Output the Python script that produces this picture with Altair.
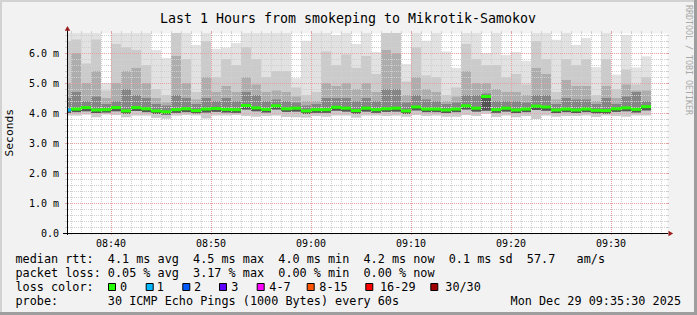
import altair as alt
import pandas as pd

# ---------------- data ----------------
# column start / end in minutes after 08:00 (first column is partial)
col_start = [35.6] + list(range(36, 94))
col_end = [36] + list(range(37, 95))

# number of lost pings per column
loss_count = [1] + [0] * 58

median = [4.10,
          4.13, 4.18, 4.10, 4.11, 4.18, 4.07, 4.18, 4.14, 4.07, 4.04, 4.11, 4.14, 4.08, 4.13, 4.15,
          4.12, 4.11, 4.25, 4.17, 4.12, 4.24, 4.14, 4.16, 4.07, 4.11, 4.11, 4.19, 4.16, 4.08, 4.16,
          4.11, 4.14, 4.16, 4.07, 4.20, 4.13, 4.13, 4.10, 4.13, 4.24, 4.16, 4.55, 4.11, 4.16, 4.10,
          4.13, 4.23, 4.20, 4.10, 4.13, 4.10, 4.13, 4.09, 4.08, 4.14, 4.17, 4.12, 4.21]

smoke_max = [6.9,
             6.9, 6.9, 6.9, 5.0, 6.9, 6.9, 6.9, 6.9, 6.1, 5.83, 6.9, 6.9, 6.27, 6.9, 6.14,
             6.18, 6.33, 6.9, 6.9, 6.9, 6.9, 6.9, 5.16, 6.41, 6.9, 6.9, 6.6, 6.9, 6.3, 6.9,
             6.03, 6.9, 6.9, 5.63, 6.9, 6.41, 6.9, 6.05, 5.5, 6.9, 6.9, 6.0, 6.9, 5.93, 6.03,
             5.74, 6.9, 6.9, 6.44, 6.9, 6.27, 6.5, 5.53, 6.9, 5.28, 6.6, 5.52, 5.89]

smoke_u1 = [6.4,
            6.45, 5.65, 6.45, 4.75, 6.3, 6.2, 6.1, 5.6, 4.8, 4.6, 6.9, 5.8, 4.7, 6.4, 5.2,
            5.8, 5.6, 6.2, 5.8, 5.2, 5.4, 5.4, 4.85, 4.6, 4.7, 6.05, 5.6, 5.95, 5.5, 5.9,
            5.3, 6.9, 6.9, 5.05, 6.2, 5.25, 5.2, 4.6, 4.85, 6.3, 5.8, 5.6, 5.6, 5.2, 5.3,
            4.95, 6.4, 5.8, 4.7, 5.8, 5.6, 5.8, 4.6, 5.8, 4.8, 5.45, 4.95, 5.2]

smoke_u2 = [5.0,
            6.0, 5.0, 5.4, 4.5, 5.0, 5.4, 5.5, 5.0, 4.5, 4.35, 5.9, 5.0, 4.45, 5.2, 4.7,
            4.9, 4.7, 5.2, 4.95, 4.7, 4.75, 4.7, 4.55, 4.4, 4.4, 5.0, 4.9, 5.0, 4.8, 5.0,
            4.7, 6.1, 6.0, 4.6, 5.2, 4.8, 4.7, 4.4, 4.55, 5.4, 5.0, 5.0, 4.8, 4.7, 4.7,
            4.6, 5.5, 5.3, 4.45, 5.1, 4.9, 4.9, 4.4, 4.9, 4.5, 4.95, 4.75, 4.75]

smoke_u3 = [4.5,
            4.7, 4.4, 4.55, 4.3, 4.4, 4.8, 4.6, 4.5, 4.3, 4.25, 4.6, 4.5, 4.3, 4.5, 4.4,
            4.5, 4.4, 4.7, 4.6, 4.4, 4.45, 4.4, 4.35, 4.25, 4.3, 4.5, 4.5, 4.5, 4.4, 4.5,
            4.4, 4.8, 4.8, 4.35, 4.6, 4.45, 4.4, 4.3, 4.35, 4.6, 4.6, 4.65, 4.4, 4.4, 4.4,
            4.35, 4.6, 4.6, 4.3, 4.5, 4.45, 4.45, 4.3, 4.5, 4.3, 4.55, 4.7, 4.4]

smoke_lo = [4.00,
            4.03, 4.06, 4.00, 4.02, 4.06, 3.98, 4.07, 4.03, 3.97, 3.95, 4.01, 4.03, 3.99, 4.02, 4.04,
            4.02, 4.01, 4.12, 4.06, 4.02, 4.12, 4.04, 4.05, 3.97, 4.01, 4.01, 4.08, 4.05, 3.98, 4.05,
            4.01, 4.04, 4.05, 3.97, 4.09, 4.03, 4.03, 4.00, 4.03, 4.12, 4.05, 4.08, 4.01, 4.05, 4.00,
            4.03, 4.10, 4.08, 4.00, 4.03, 4.00, 4.03, 3.99, 3.98, 4.04, 4.06, 4.02, 4.09]

smoke_min = [3.92,
             3.92, 3.95, 3.86, 3.95, 3.93, 3.86, 3.92, 3.92, 3.84, 3.81, 3.92, 3.93, 3.92, 3.82, 3.92,
             3.92, 3.93, 3.90, 3.88, 3.90, 3.92, 3.87, 3.86, 3.85, 3.90, 3.88, 3.92, 3.92, 3.85, 3.92,
             3.92, 3.90, 3.92, 3.88, 3.93, 3.90, 3.92, 3.88, 3.88, 3.93, 3.90, 3.98, 3.87, 3.92, 3.86,
             3.90, 3.80, 3.92, 3.88, 3.90, 3.90, 3.92, 3.87, 3.92, 3.90, 3.88, 3.92, 3.92]

# axis ticks / labels
y_label_values = [0, 1, 2, 3, 4, 5, 6]
y_label_texts = ["0.0  ", "1.0 m", "2.0 m", "3.0 m", "4.0 m", "5.0 m", "6.0 m"]
x_label_values = [40, 50, 60, 70, 80, 90]
x_label_texts = ["08:40", "08:50", "09:00", "09:10", "09:20", "09:30"]

# legend texts
title_text = "Last 1 Hours from smokeping to Mikrotik-Samokov"
rtt_stats = ["4.1 ms avg", "4.5 ms max", "4.0 ms min", "4.2 ms now", "0.1 ms sd", "57.7   am/s"]
loss_stats = ["0.05 % avg", "3.17 % max", "0.00 % min", "0.00 % now"]
loss_labels = ["0", "1", "2", "3", "4-7", "8-15", "16-29", "30/30"]
probe_text = "30 ICMP Echo Pings (1000 Bytes) every 60s"
date_text = "Mon Dec 29 09:35:30 2025"

# ---------------- styles / layout ----------------
FONT = "DejaVu Sans Mono"
BG = "#f2f2f2"
LOSS_COLORS = ["#26ff00", "#00b8ff", "#0059ff", "#5e00ff", "#ff00ff", "#ff5500", "#ff0000", "#a00000"]
BAND_COLORS = ["#e2e2e2", "#cbcbcb", "#adadad", "#858585", "#555555"]
MINOR = "#d0d0d0"
MAJOR = "#e6a0a0"
ARROW = "#9b1c1c"
X0, Y0 = 67, 33          # plot origin in the image
W, H = 600, 200


def rx(x):
    return x - X0


def ry(y):
    return y - Y0


def nb(s):
    return s.replace(" ", "\u00a0")


n = len(col_start)
for arr in (col_end, loss_count, median, smoke_max, smoke_u1, smoke_u2, smoke_u3, smoke_lo, smoke_min):
    assert len(arr) == n, len(arr)

df = pd.DataFrame(dict(t0=col_start, t1=col_end, med=median, mx=smoke_max, u1=smoke_u1,
                       u2=smoke_u2, u3=smoke_u3, lo=smoke_lo, mn=smoke_min, loss=loss_count))
df["mcolor"] = [LOSS_COLORS[min(l, 1)] for l in loss_count]

xs = alt.Scale(domain=[35.6, 95.6], nice=False, zero=False)
ys = alt.Scale(domain=[0, 20 / 3], nice=False, zero=False)

base = alt.Chart(df)
layers = []


def band(lo_f, hi_f, color):
    return base.mark_rect(color=color, clip=True).encode(
        x=alt.X("t0:Q", scale=xs, axis=None),
        x2="t1:Q",
        y=alt.Y(f"{lo_f}:Q", scale=ys, axis=None),
        y2=f"{hi_f}:Q",
    )


layers.append(band("mn", "mx", BAND_COLORS[0]))
layers.append(band("mn", "u1", BAND_COLORS[1]))
layers.append(band("lo", "u2", BAND_COLORS[2]))
layers.append(band("lo", "u3", BAND_COLORS[3]))
layers.append(band("lo", "med", BAND_COLORS[4]))

# ---------------- grid ----------------
h_minor = [round(0.2 * i, 1) for i in range(1, 34) if i % 5 != 0]
h_major = [1, 2, 3, 4, 5, 6]
v_minor = [m for m in range(36, 96) if m % 10 != 0]
v_major = x_label_values


def hgrid(vals, color):
    c = alt.Chart(pd.DataFrame({"v": vals}))
    y = alt.Y("v:Q", scale=ys, axis=None)
    return [
        c.mark_rule(color=color, strokeDash=[1, 1], yOffset=0.5).encode(y=y, x=alt.value(-1), x2=alt.value(W + 1)),
        c.mark_rule(color=color, yOffset=0.5).encode(y=y, x=alt.value(-2), x2=alt.value(0)),
        c.mark_rule(color=color, yOffset=0.5).encode(y=y, x=alt.value(W), x2=alt.value(W + 2)),
    ]


def vgrid(vals, color):
    c = alt.Chart(pd.DataFrame({"v": vals}))
    x = alt.X("v:Q", scale=xs, axis=None)
    return [
        c.mark_rule(color=color, strokeDash=[1, 1], xOffset=0.5).encode(x=x, y=alt.value(0), y2=alt.value(H)),
        c.mark_rule(color=color, xOffset=0.5).encode(x=x, y=alt.value(-2), y2=alt.value(0)),
        c.mark_rule(color=color, xOffset=0.5).encode(x=x, y=alt.value(H), y2=alt.value(H + 2)),
    ]


layers += hgrid(h_minor, MINOR) + vgrid(v_minor, MINOR) + hgrid(h_major, MAJOR) + vgrid(v_major, MAJOR)

# ---------------- median line ----------------
layers.append(base.mark_rule(strokeWidth=3, clip=True).encode(
    x=alt.X("t0:Q", scale=xs, axis=None), x2="t1:Q",
    y=alt.Y("med:Q", scale=ys, axis=None),
    color=alt.Color("mcolor:N", scale=None)))

# ---------------- axis labels ----------------
ylab = pd.DataFrame({"v": y_label_values, "t": [nb(t) for t in y_label_texts]})
layers.append(alt.Chart(ylab).mark_text(font=FONT, fontSize=10, align="right", baseline="middle",
                                         color="black", dy=1).encode(
    y=alt.Y("v:Q", scale=ys, axis=None), x=alt.value(-8), text="t:N"))
xlab = pd.DataFrame({"v": x_label_values, "t": x_label_texts})
layers.append(alt.Chart(xlab).mark_text(font=FONT, fontSize=10, align="center", baseline="top",
                                         color="black").encode(
    x=alt.X("v:Q", scale=xs, axis=None), y=alt.value(H + 5.5), text="t:N"))

# ---------------- axes lines & arrows ----------------
one = alt.Chart(pd.DataFrame({"a": [0]}))
layers.append(one.mark_rule(color="black").encode(x=alt.value(-4), x2=alt.value(W + 1), y=alt.value(H + 0.5)))
layers.append(one.mark_rule(color="black").encode(x=alt.value(0.5), y=alt.value(H + 2), y2=alt.value(-4)))
layers.append(one.mark_point(shape="triangle-right", filled=True, size=30, color=ARROW, opacity=1).encode(
    x=alt.value(rx(670.8)), y=alt.value(H + 0.5)))
layers.append(one.mark_point(shape="triangle-up", filled=True, size=30, color=ARROW, opacity=1).encode(
    x=alt.value(0.5), y=alt.value(ry(28.3))))

# ---------------- frame shading ----------------
frame = [
    (0, 697, 0, 2, "#d2d2d2"),
    (0, 2, 0, 315, "#d2d2d2"),
    (694, 697, 0, 315, "#9e9e9e"),
    (0, 697, 312, 315, "#9e9e9e"),
]
for x1, x2, y1, y2, col in frame:
    layers.append(one.mark_rect(color=col).encode(
        x=alt.value(rx(x1)), x2=alt.value(rx(x2)), y=alt.value(ry(y1)), y2=alt.value(ry(y2))))


# ---------------- texts ----------------
def text_layer(x, y, txt, size, align="left", baseline="alphabetic", angle=0, color="black"):
    return one.mark_text(font=FONT, fontSize=size, align=align, baseline=baseline, angle=angle,
                         color=color).encode(x=alt.value(rx(x)), y=alt.value(ry(y)), text=alt.value(nb(txt)))


row1 = "median rtt:  " + "  ".join(rtt_stats)
row2 = "packet loss: " + "  ".join(loss_stats)
row3 = "loss color:"
row4 = "probe:       " + probe_text

LEG = 11.8
layers.append(text_layer(348, 22.5, title_text, 13.3, align="center"))
layers.append(text_layer(10, 132.7, "Seconds", 11.3, align="center", baseline="middle", angle=270))
layers.append(text_layer(688.3, 60, "RRDTOOL / TOBI OETIKER", 8.3, align="center", baseline="middle",
                         angle=90, color="#a8a8a8"))
layers.append(text_layer(15.5, 263, row1, LEG))
layers.append(text_layer(15.5, 277.3, row2, LEG))
layers.append(text_layer(15.5, 291, row3, LEG))
layers.append(text_layer(15.5, 305.3, row4, LEG))
layers.append(text_layer(681, 305.3, date_text, LEG, align="right"))

sq_x = [112, 149.7, 186.3, 223, 260.7, 310.7, 369.3, 434.3]
lab_x = [120, 156.7, 194, 231.3, 269.3, 319.3, 380, 445.3]
for lbl, col, sx, lx in zip(loss_labels, LOSS_COLORS, sq_x, lab_x):
    layers.append(one.mark_square(size=49, color=col, stroke="black", strokeWidth=1, opacity=1).encode(
        x=alt.value(rx(sx)), y=alt.value(ry(287))))
    layers.append(text_layer(lx, 291, lbl, LEG))

chart = alt.layer(*layers).properties(
    width=W, height=H,
    padding={"left": X0, "top": Y0, "right": 697 - X0 - W, "bottom": 315 - Y0 - H},
    autosize=alt.AutoSizeParams(type="none"),
).configure(background=BG).configure_view(fill="white", stroke="transparent")

chart.save("out.html", embed_options={"renderer": "svg", "actions": False})
